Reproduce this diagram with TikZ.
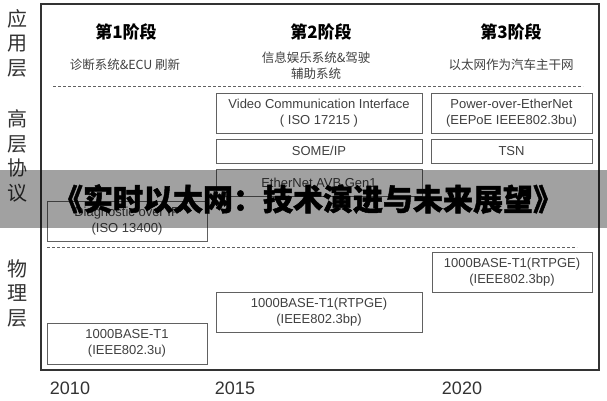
\documentclass[tikz,border=0pt]{standalone}
\usepackage{fontspec}
\setmainfont{Liberation Sans}
\newfontfamily\cjk{Noto Sans CJK SC}
\newfontfamily\bannerfont{Noto Sans CJK SC}[BoldFeatures={FakeBold=1.5}]
\usepackage{tikz}
\usetikzlibrary{positioning}
\definecolor{framegray}{gray}{0.2}
\definecolor{boxgray}{gray}{0.38}
\definecolor{textgray}{gray}{0.25}
\tikzset{layerbox/.style = {draw=boxgray, line width=0.9pt, inner sep=0pt, align=center,
                            text=textgray, font=\fontsize{13}{16}\selectfont}}
\tikzset{stagetitle/.style = {font=\cjk\bfseries\fontsize{17}{20}\selectfont, text=black}}
\tikzset{stagenote/.style = {font=\cjk\fontsize{12.5}{16}\selectfont, text=textgray, align=center}}
\tikzset{layername/.style = {font=\cjk\fontsize{20}{24.5}\selectfont, text=framegray, align=center}}
\tikzset{yearlabel/.style = {font=\fontsize{18}{20}\selectfont, text=framegray}}
\tikzset{divider/.style = {boxgray, line width=1pt, dash pattern=on 3pt off 2pt}}

\begin{document}
\begin{tikzpicture}[x=1pt, y=-1pt]
    \useasboundingbox (0, 0) rectangle (607, 400);
    \fill [white] (0, 0) rectangle (607, 400);

    \draw [framegray, line width=1.5pt] (41, 4) rectangle (599, 370);

    \node [layername] (app) at (17, 43) {应\\用\\层};
    \node [layername] (proto) at (17, 156) {高\\层\\协\\议};
    \node [layername] (phy) at (17, 293) {物\\理\\层};

    \node [stagetitle] (stage1) at (126, 32) {第1阶段};
    \node [stagetitle] (stage2) at (321, 32) {第2阶段};
    \node [stagetitle] (stage3) at (511, 32) {第3阶段};

    \node [stagenote] (note1) at (125, 65) {诊断系统\&ECU 刷新};
    \node [stagenote] (note2) at (316, 66) {信息娱乐系统\&驾驶\\辅助系统};
    \node [stagenote] (note3) at (511, 65) {以太网作为汽车主干网};

    \draw [divider] (53, 86) -- (583, 86);
    \draw [divider] (47, 247) -- (577, 247);

    \node [layerbox, minimum width=206, minimum height=40] (vci) at (319, 113)
        {Video Communication Interface\\( ISO 17215 )};
    \node [layerbox, minimum width=161, minimum height=40] (poe) at (511.5, 113)
        {Power-over-EtherNet\\(EEPoE IEEE802.3bu)};
    \node [layerbox, minimum width=206, minimum height=24] (someip) at (319, 151) {SOME/IP};
    \node [layerbox, minimum width=161, minimum height=24] (tsn) at (511.5, 151) {TSN};
    \node [layerbox, minimum width=206, minimum height=27] (avb) at (319, 182.5) {EtherNet AVB Gen1};
    \node [layerbox, minimum width=160, minimum height=40] (doip) at (127, 221)
        {Diagnostic over IP\\(ISO 13400)};

    \node [layerbox, minimum width=160, minimum height=40] (rtpge3) at (512, 272)
        {1000BASE-T1(RTPGE)\\(IEEE802.3bp)};
    \node [layerbox, minimum width=206, minimum height=40] (rtpge2) at (319, 312)
        {1000BASE-T1(RTPGE)\\(IEEE802.3bp)};
    \node [layerbox, minimum width=160, minimum height=41] (base1) at (127, 343.5)
        {1000BASE-T1\\(IEEE802.3u)};

    \node [yearlabel] (y2010) at (70, 388) {2010};
    \node [yearlabel] (y2015) at (235, 388) {2015};
    \node [yearlabel] (y2020) at (462, 388) {2020};

    % banner over the middle
    \fill [black, fill opacity=0.37] (0, 170) rectangle (607, 228);
    \node [font=\bannerfont\bfseries\fontsize{30}{32}\selectfont] (banner) at (308, 199)
        {《实时以太网：技术演进与未来展望》};
\end{tikzpicture}
\end{document}
